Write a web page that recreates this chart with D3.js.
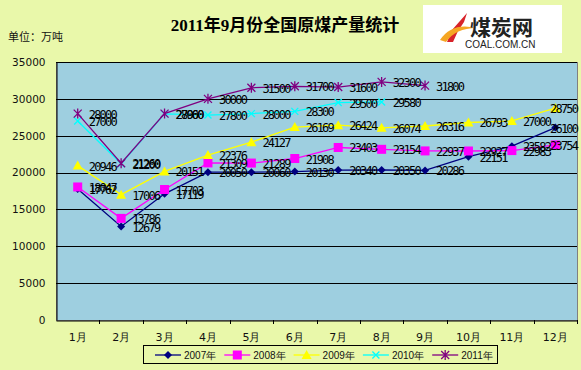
<!DOCTYPE html>
<html>
<head>
<meta charset="utf-8">
<script src="https://cdn.jsdelivr.net/npm/d3@7"></script>
<style>
  body { margin: 0; background: #e9f8aa; }
  svg { display: block; }
</style>
</head>
<body>
<div id="chart"></div>
<script>
// data
var months = ["1月", "2月", "3月", "4月", "5月", "6月", "7月", "8月", "9月", "10月", "11月", "12月"];
var years = ["2007年", "2008年", "2009年", "2010年", "2011年"];
var y2007 = [17762, 12679, 17119, 20050, 20060, 20130, 20340, 20350, 20286, 22151, 23582, 26100];
var y2008 = [18047, 13786, 17703, 21309, 21289, 21908, 23403, 23154, 22937, 22927, 22983, 23754];
var y2009 = [20946, 17006, 20151, 22376, 24127, 26169, 26424, 26074, 26316, 26793, 27000, 28750];
var y2010 = [27000, 21200, 27960, 27800, 28000, 28300, 29500, 29580];
var y2011 = [28000, 21260, 28000, 30000, 31500, 31700, 31600, 32300, 31800];
var yTicks = [0, 5000, 10000, 15000, 20000, 25000, 30000, 35000];

var seriesList = [
  {name: years[0], values: y2007, color: "#000080", marker: "diamond"},
  {name: years[1], values: y2008, color: "#ff00ff", marker: "square"},
  {name: years[2], values: y2009, color: "#ffff00", marker: "triangle"},
  {name: years[3], values: y2010, color: "#00ffff", marker: "cross"},
  {name: years[4], values: y2011, color: "#800080", marker: "star"}
];

var width = 581, height = 370;
var plotLeft = 56, plotRight = 577, plotTop = 62, plotBottom = 320;

var svg = d3.select("#chart").append("svg")
    .attr("width", width)
    .attr("height", height)
    .style("font-family", "'Liberation Sans', Arial, sans-serif");

svg.append("rect").attr("width", width).attr("height", height).attr("fill", "#e9f8aa");

var x = d3.scaleBand().domain(months).range([plotLeft, plotRight]);
var y = d3.scaleLinear().domain([0, 35000]).range([plotBottom, plotTop]);

// plot area
svg.append("rect")
    .attr("x", plotLeft + 0.5).attr("y", plotTop + 0.5)
    .attr("width", plotRight - plotLeft).attr("height", plotBottom - plotTop)
    .attr("fill", "#9ecfe0")
    .attr("stroke", "#808080");

// gridlines
svg.selectAll("line.grid")
    .data(yTicks.slice(1))
    .enter().append("line")
    .attr("class", "grid")
    .attr("x1", plotLeft).attr("x2", plotRight)
    .attr("y1", d => Math.round(y(d)) + 0.5)
    .attr("y2", d => Math.round(y(d)) + 0.5)
    .attr("stroke", "#000");

// y axis
var yAxis = svg.append("g")
    .attr("transform", "translate(" + (plotLeft + 0.5) + ",0)")
    .call(d3.axisLeft(y).tickValues(yTicks).tickFormat(d3.format("d")).tickSize(0).tickPadding(11));
yAxis.select(".domain").attr("stroke", "#000");
yAxis.selectAll("text").attr("fill", "#111")
    .attr("font-family", "'DejaVu Sans', sans-serif").style("font-size", "10.5px");

// x axis
var xAxis = svg.append("g")
    .attr("transform", "translate(0," + (plotBottom + 0.5) + ")")
    .call(d3.axisBottom(x).tickSize(0).tickPadding(13));
xAxis.select(".domain").attr("stroke", "#000");
xAxis.selectAll("text").attr("fill", "#111").style("font-size", "11px")
    .attr("font-family", "'DejaVu Sans', sans-serif");
svg.selectAll("line.xtick")
    .data(months.slice(1).concat(["end"]))
    .enter().append("line")
    .attr("class", "xtick")
    .attr("x1", d => Math.round(d === "end" ? plotRight : x(d)) + 0.5)
    .attr("x2", d => Math.round(d === "end" ? plotRight : x(d)) + 0.5)
    .attr("y1", plotBottom).attr("y2", plotBottom + 4)
    .attr("stroke", "#000");

// markers
function marker(sel, type, color) {
  if (type === "diamond") {
    sel.append("path").attr("d", "M0,-4L4,0L0,4L-4,0Z").attr("fill", color);
  } else if (type === "square") {
    sel.append("rect").attr("x", -4.5).attr("y", -4.5).attr("width", 9).attr("height", 9).attr("fill", color);
  } else if (type === "triangle") {
    sel.append("path").attr("d", "M0,-5L5,4L-5,4Z").attr("fill", color);
  } else if (type === "cross") {
    sel.append("path").attr("d", "M-3.5,-3.5L3.5,3.5M3.5,-3.5L-3.5,3.5").attr("stroke", color).attr("stroke-width", 1.3);
  } else {
    sel.append("path").attr("d", "M-4,-4L4,4M4,-4L-4,4M0,-5L0,5").attr("stroke", color).attr("stroke-width", 1.3);
  }
}

var line = d3.line()
    .x((d, i) => x(months[i]) + x.bandwidth() / 2)
    .y(d => y(d));

seriesList.forEach(function(s) {
  var g = svg.append("g");
  g.append("path")
      .datum(s.values)
      .attr("d", line)
      .attr("fill", "none")
      .attr("stroke", s.color)
      .attr("stroke-width", 1.3);
  g.selectAll("g.pt")
      .data(s.values)
      .enter().append("g")
      .attr("class", "pt")
      .attr("transform", (d, i) => "translate(" + (x(months[i]) + x.bandwidth() / 2) + "," + y(d) + ")")
      .each(function() { marker(d3.select(this), s.marker, s.color); });
});

// data labels (pushed back inside near the right edge)
seriesList.forEach(function(s) {
  svg.append("g").selectAll("text")
      .data(s.values)
      .enter().append("text")
      .attr("x", (d, i) => Math.min(x(months[i]) + x.bandwidth() / 2 + 11, width - 31))
      .attr("y", d => y(d) + 5)
      .attr("font-family", "'DejaVu Sans Mono', monospace")
      .attr("font-size", 12)
      .attr("fill", "#000")
      .attr("textLength", 29)
      .text(d => d);
});

// title
svg.append("text")
    .attr("x", 285).attr("y", 31)
    .attr("text-anchor", "middle")
    .attr("font-family", "'Liberation Serif', 'Noto Sans CJK SC', serif")
    .attr("font-weight", "bold")
    .attr("font-size", 17)
    .attr("fill", "#000")
    .text("2011年9月份全国原煤产量统计");

svg.append("text")
    .attr("x", 8).attr("y", 41)
    .attr("font-family", "'Noto Sans CJK SC', sans-serif")
    .attr("font-size", 11)
    .attr("fill", "#111")
    .text("单位：万吨");

// logo
var logo = svg.append("g");
logo.append("rect").attr("x", 423).attr("y", 5).attr("width", 139).attr("height", 48).attr("fill", "#fff");
logo.append("path")
    .attr("d", "M467,13L452,30L447,42L453,42L458,31L464,22Z")
    .attr("fill", "#d8232a");
logo.append("path")
    .attr("d", "M440,40Q452,22 476,28Q456,28 446,42Z")
    .attr("fill", "#f5a623");
logo.append("text")
    .attr("x", 470).attr("y", 35)
    .attr("font-family", "'Noto Sans CJK SC', sans-serif")
    .attr("font-weight", "bold")
    .attr("font-size", 21)
    .attr("fill", "#222")
    .text("煤炭网");
logo.append("text")
    .attr("x", 465).attr("y", 48)
    .attr("font-family", "'Liberation Sans', sans-serif")
    .attr("font-size", 10)
    .attr("fill", "#222")
    .text("COAL.COM.CN");

// legend
var legend = svg.append("g");
legend.append("rect")
    .attr("x", 143.5).attr("y", 345.5)
    .attr("width", 354).attr("height", 18)
    .attr("fill", "#e9f8aa")
    .attr("stroke", "#000");
seriesList.forEach(function(s, i) {
  var lx = 155 + i * 69.3;
  var lg = legend.append("g");
  lg.append("line")
      .attr("x1", lx).attr("x2", lx + 26)
      .attr("y1", 355).attr("y2", 355)
      .attr("stroke", s.color).attr("stroke-width", 1.3);
  var m = lg.append("g").attr("transform", "translate(" + (lx + 13) + ",355)");
  marker(m, s.marker, s.color);
  lg.append("text")
      .attr("x", lx + 29).attr("y", 359)
      .attr("font-family", "'Liberation Sans', sans-serif")
      .attr("font-size", 10)
      .attr("fill", "#111")
      .text(s.name);
});
</script>
</body>
</html>
